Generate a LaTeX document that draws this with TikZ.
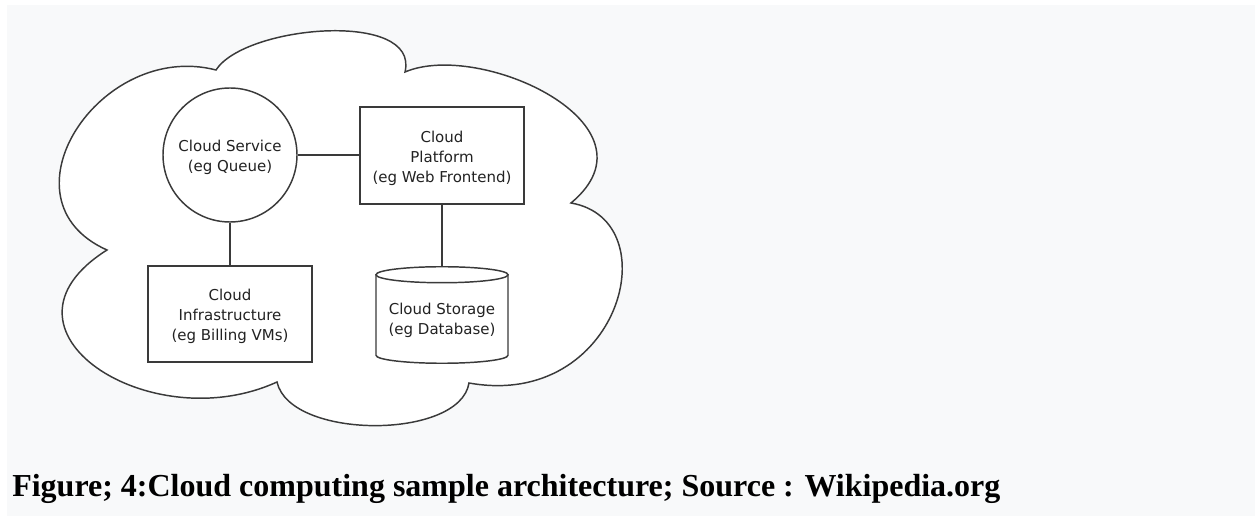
\documentclass[tikz,border=0pt]{standalone}
\usepackage{fontspec}
\newfontfamily\dejavu{DejaVu Sans}
\newfontfamily\capfont{Liberation Serif}
\definecolor{bgc}{HTML}{F8F9FA}
\definecolor{linec}{HTML}{3A3A3A}
\definecolor{textc}{HTML}{222222}
\begin{document}
\begin{tikzpicture}[x=0.75pt,y=-0.75pt,
  ln/.style={draw=linec, line width=1.1pt},
  lbl/.style={font=\dejavu\fontsize{11.25}{15}\selectfont, align=center, text=textc, inner sep=0},
  boxn/.style={ln, rectangle, inner sep=0, fill=white}]
\useasboundingbox (0,0) rectangle (1257,516);
\fill[white] (0,0) rectangle (1257,516);
\fill[bgc] (7,5) rectangle (1255,516);
% cloud
\draw[ln, fill=white] (107,250) .. controls (-5,200) and (100,40) .. (216,70)
  .. controls (245,25) and (420,10) .. (405,72)
  .. controls (480,40) and (665,125) .. (571,203)
  .. controls (670,220) and (620,410) .. (469,383)
  .. controls (460,440) and (290,440) .. (277,382)
  .. controls (150,440) and (-20,330) .. (107,250) -- cycle;
% shapes
\node[ln, circle, minimum size=100.5pt, inner sep=0, fill=white] (svc) at (230,155) {};
\node[boxn, minimum width=123pt, minimum height=72.75pt] (plat) at (442,155.5) {};
\node[boxn, minimum width=123pt, minimum height=72pt] (infra) at (230,314) {};
\node[inner sep=0, minimum width=99pt, minimum height=72pt] (stor) at (442,315) {};
\path (stor.north) ++(0,8) coordinate (ctop);
\path (stor.south) ++(0,-8) coordinate (cbot);
\draw[ln] ([xshift=-49.5pt]ctop) -- ([xshift=-49.5pt]cbot)
  arc[start angle=180, end angle=360, x radius=49.5pt, y radius=6pt]
  -- ([xshift=49.5pt]ctop);
\draw[ln] (ctop) ellipse [x radius=49.5pt, y radius=6pt];
% connectors
\draw[ln] (svc.east) -- (svc.east -| plat.west);
\draw[ln] (svc.south) -- (infra.north);
\draw[ln] (plat.south) -- (stor.north);
% texts
\node[lbl] (svct) at (230,157.5) {Cloud Service\\(eg Queue)};
\node[lbl] (platt) at (442,158.5) {Cloud\\Platform\\(eg Web Frontend)};
\node[lbl] (infrat) at (230,316) {Cloud\\Infrastructure\\(eg Billing VMs)};
\node[lbl] (stort) at (442,320.5) {Cloud Storage\\(eg Database)};
% caption
\node[anchor=base west, inner sep=0, font=\capfont\bfseries\fontsize{24}{28}\selectfont] (cap) at (12,497) {Figure; 4:Cloud computing sample architecture; Source : Wikipedia.org};
\end{tikzpicture}
\end{document}
